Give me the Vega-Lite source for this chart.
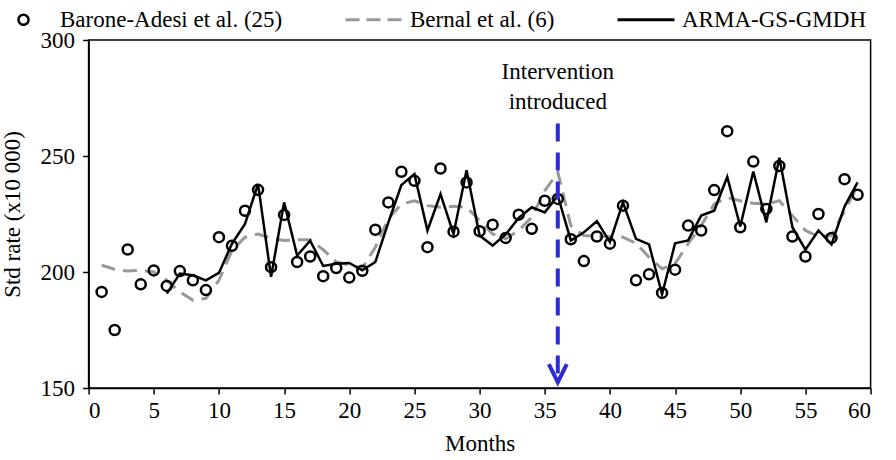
{
 "$schema": "https://vega.github.io/schema/vega-lite/v6.json",
 "width": 782, "height": 348,
 "autosize": {"type": "none"},
 "padding": {"left": 88.6, "top": 40, "right": 25.4, "bottom": 72},
 "background": "white",
 "config": {
   "font": "Liberation Serif",
   "view": {"stroke": "black", "strokeWidth": 1.5},
   "axis": {"domainColor": "black", "domainWidth": 1.5, "tickColor": "black", "tickWidth": 1.5, "tickSize": 6,
            "labelFont": "Liberation Serif", "labelFontSize": 23, "labelColor": "black",
            "titleFont": "Liberation Serif", "titleFontSize": 23, "titleFontWeight": "normal", "titleColor": "black", "grid": false}
 },
 "layer": [
  {
   "data": {"values": [
    {"m":1,"a":191.4,"b":202.9},
    {"m":2,"a":175,"b":201.2},
    {"m":3,"a":209.7,"b":200.4},
    {"m":4,"a":194.7,"b":200.7},
    {"m":5,"a":200.7,"b":200},
    {"m":6,"a":194,"b":196.4,"c":190.7},
    {"m":7,"a":200.4,"b":191.4,"c":199.3},
    {"m":8,"a":196.4,"b":187.9,"c":198.6},
    {"m":9,"a":192.2,"b":188.6,"c":196.4},
    {"m":10,"a":215,"b":196.4,"c":199.6},
    {"m":11,"a":211.3,"b":209.3,"c":212.2},
    {"m":12,"a":226.4,"b":215,"c":220.7},
    {"m":13,"a":235.4,"b":216.4,"c":237.9},
    {"m":14,"a":202.1,"b":214.6,"c":197.9},
    {"m":15,"a":224.6,"b":213.6,"c":230},
    {"m":16,"a":204.3,"b":213.9,"c":207.1},
    {"m":17,"a":206.7,"b":213.9,"c":213.5},
    {"m":18,"a":198.2,"b":209.6,"c":202.6},
    {"m":19,"a":201.7,"b":204.3,"c":203.6},
    {"m":20,"a":197.6,"b":203,"c":203.9},
    {"m":21,"a":200.5,"b":201.6,"c":200.7},
    {"m":22,"a":218.2,"b":210.7,"c":204.3},
    {"m":23,"a":230,"b":222.9,"c":221.4},
    {"m":24,"a":243.2,"b":229.3,"c":237.5},
    {"m":25,"a":239.3,"b":230.7,"c":242.2},
    {"m":26,"a":210.7,"b":228.6,"c":217.9},
    {"m":27,"a":244.6,"b":227.9,"c":233.6},
    {"m":28,"a":217.4,"b":228.3,"c":216.4},
    {"m":29,"a":238.6,"b":227.9,"c":243.9},
    {"m":30,"a":217.6,"b":222.2,"c":215.7},
    {"m":31,"a":220.4,"b":216.4,"c":211.4},
    {"m":32,"a":214.7,"b":214.3,"c":216.2},
    {"m":33,"a":224.7,"b":217.9,"c":223.3},
    {"m":34,"a":218.6,"b":223.6,"c":227.9},
    {"m":35,"a":230.7,"b":235,"c":225.7},
    {"m":36,"a":231.5,"b":243,"c":232.9},
    {"m":37,"a":214.1,"b":220,"c":213.6},
    {"m":38,"a":204.7,"b":215.7,"c":217.1},
    {"m":39,"a":215.3,"b":215.3,"c":221.9},
    {"m":40,"a":212.2,"b":215.3,"c":212.9},
    {"m":41,"a":228.6,"b":215,"c":230},
    {"m":42,"a":196.4,"b":212.4,"c":214.3},
    {"m":43,"a":199,"b":206.4,"c":211.9},
    {"m":44,"a":191,"b":201.4,"c":190.4},
    {"m":45,"a":201,"b":203.6,"c":212.4},
    {"m":46,"a":220,"b":212.2,"c":213.6},
    {"m":47,"a":217.9,"b":220,"c":224.3},
    {"m":48,"a":235.3,"b":229.3,"c":226.4},
    {"m":49,"a":260.7,"b":232.1,"c":241},
    {"m":50,"a":219.3,"b":230.7,"c":219.6},
    {"m":51,"a":247.6,"b":229.6,"c":243.3},
    {"m":52,"a":227.2,"b":229.3,"c":221.4},
    {"m":53,"a":245.7,"b":230.7,"c":249.3},
    {"m":54,"a":215.3,"b":224.3,"c":219.3},
    {"m":55,"a":206.7,"b":217.9,"c":209.6},
    {"m":56,"a":225,"b":215.3,"c":217.9},
    {"m":57,"a":214.7,"b":215.7,"c":211.9},
    {"m":58,"a":240,"b":226.4,"c":228.2},
    {"m":59,"a":233.3,"b":237.1,"c":238.6}
   ]},
   "transform": [{"fold": ["a","b","c"], "as": ["s","v"]}, {"filter": "isValid(datum.v)"}],
   "encoding": {
     "x": {"field": "m", "type": "quantitative", "scale": {"domain": [0,60], "nice": false},
           "axis": {"values": [0,5,10,15,20,25,30,35,40,45,50,55,60], "title": "Months", "labelPadding": 5, "titlePadding": 10}},
     "y": {"field": "v", "type": "quantitative", "scale": {"domain": [150,300], "nice": false, "zero": false},
           "axis": {"values": [150,200,250,300], "title": "Std rate (x10 000)", "labelPadding": 8, "titlePadding": 16}},
     "color": {"field": "s", "type": "nominal",
       "scale": {"domain": ["a","b","c"], "range": ["black","#999999","black"]},
       "legend": {"orient": "none", "direction": "horizontal", "legendX": -76.6, "legendY": -32, "title": null, "padding": 0,
         "labelFont": "Liberation Serif", "labelFontSize": 23, "labelColor": "black", "labelLimit": 400,
         "columnPadding": 56, "symbolSize": 100, "symbolStrokeWidth": 3,
         "labelExpr": "datum.value === 'a' ? 'Barone-Adesi et al. (25)' : datum.value === 'b' ? 'Bernal et al. (6)' : 'ARMA-GS-GMDH'",
         "encode": {
           "symbols": {"update": {
             "shape": {"signal": "datum.value === 'a' ? 'M-1,0A1,1 0 1,0 1,0A1,1 0 1,0 -1,0Z' : 'M-2.4,0L9,0'"},
             "stroke": {"signal": "datum.value === 'b' ? '#999999' : 'black'"},
             "strokeDash": {"signal": "datum.value === 'b' ? [14,7] : [1,0]"},
             "strokeWidth": {"signal": "datum.value === 'a' ? 2.5 : 3"},
             "fill": {"value": "transparent"},
             "size": {"value": 100},
             "opacity": {"value": 1}
           }},
           "labels": {"update": {"x": {"signal": "datum.value === 'a' ? 48 : 64"}}}
         }
       }
     }
   },
   "layer": [
     {"transform": [{"filter": "datum.s === 'b'"}], "mark": {"type": "line", "strokeDash": [14,8], "strokeWidth": 3}},
     {"transform": [{"filter": "datum.s === 'c'"}], "mark": {"type": "line", "strokeWidth": 2.5}},
     {"transform": [{"filter": "datum.s === 'a'"}], "mark": {"type": "point", "filled": false, "size": 100, "strokeWidth": 2.5, "opacity": 1}}
   ]
  },
  {
   "data": {"values": [{}]},
   "mark": {"type": "rule", "stroke": "#2b2bd6", "strokeWidth": 4, "strokeDash": [18,11]},
   "encoding": {"x": {"datum": 36}, "y": {"datum": 264}, "y2": {"datum": 153}}
  },
  {
   "data": {"values": [{}]},
   "mark": {"type": "point", "shape": "M-1,-2L0,0L1,-2", "size": 324, "filled": false, "stroke": "#2b2bd6", "strokeWidth": 4, "opacity": 1, "strokeJoin": "miter"},
   "encoding": {"x": {"datum": 36}, "y": {"datum": 152.5}}
  },
  {
   "data": {"values": [{}]},
   "mark": {"type": "text", "text": ["Intervention", "introduced"], "fontSize": 23, "lineHeight": 30, "font": "Liberation Serif", "color": "black"},
   "encoding": {"x": {"datum": 36}, "y": {"datum": 286}}
  }
 ]
}
